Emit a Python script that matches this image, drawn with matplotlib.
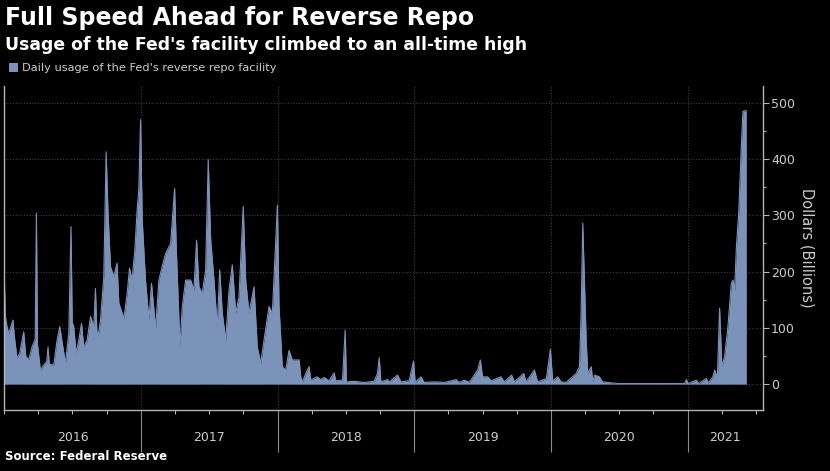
import matplotlib
matplotlib.use('Agg')
import matplotlib.pyplot as plt
import matplotlib.transforms as mtransforms
from matplotlib.patches import Patch
from matplotlib.ticker import FixedLocator, MultipleLocator, NullFormatter

# Daily usage of the Fed's reverse repo facility ($bn).
# x positions are decimal years.
year_pos = [
    2016.000, 2016.009, 2016.021, 2016.033, 2016.065, 2016.073, 2016.094, 2016.114,
    2016.143, 2016.158, 2016.180, 2016.204, 2016.227, 2016.236, 2016.244, 2016.265,
    2016.289, 2016.311, 2016.321, 2016.330, 2016.363, 2016.387, 2016.407, 2016.448,
    2016.473, 2016.489, 2016.498, 2016.509, 2016.526, 2016.546, 2016.566, 2016.582,
    2016.607, 2016.632, 2016.656, 2016.668, 2016.678, 2016.687, 2016.705, 2016.729,
    2016.746, 2016.760, 2016.778, 2016.802, 2016.826, 2016.839, 2016.876, 2016.900,
    2016.917, 2016.936, 2016.956, 2016.973, 2016.985, 2016.998, 2017.010, 2017.034,
    2017.059, 2017.078, 2017.108, 2017.132, 2017.156, 2017.181, 2017.218, 2017.247,
    2017.259, 2017.278, 2017.286, 2017.303, 2017.328, 2017.364, 2017.388, 2017.408,
    2017.425, 2017.449, 2017.474, 2017.493, 2017.511, 2017.535, 2017.559, 2017.577,
    2017.596, 2017.621, 2017.645, 2017.669, 2017.694, 2017.718, 2017.749, 2017.767,
    2017.791, 2017.828, 2017.852, 2017.877, 2017.901, 2017.938, 2017.962, 2017.999,
    2018.011, 2018.035, 2018.060, 2018.084, 2018.108, 2018.121, 2018.158, 2018.170,
    2018.182, 2018.207, 2018.231, 2018.243, 2018.289, 2018.317, 2018.341, 2018.377,
    2018.414, 2018.426, 2018.475, 2018.495, 2018.504, 2018.560, 2018.634, 2018.707,
    2018.731, 2018.744, 2018.756, 2018.804, 2018.817, 2018.878, 2018.903, 2018.963,
    2018.995, 2019.007, 2019.049, 2019.073, 2019.147, 2019.220, 2019.306, 2019.330,
    2019.366, 2019.403, 2019.464, 2019.484, 2019.500, 2019.537, 2019.562, 2019.635,
    2019.659, 2019.713, 2019.733, 2019.801, 2019.818, 2019.879, 2019.903, 2019.967,
    2019.996, 2020.013, 2020.050, 2020.075, 2020.111, 2020.185, 2020.209, 2020.221,
    2020.233, 2020.245, 2020.258, 2020.270, 2020.295, 2020.306, 2020.319, 2020.355,
    2020.377, 2020.451, 2020.502, 2020.795, 2020.978, 2020.991, 2021.004, 2021.064,
    2021.081, 2021.137, 2021.150, 2021.183, 2021.198, 2021.218, 2021.234, 2021.251,
    2021.271, 2021.295, 2021.320, 2021.332, 2021.344, 2021.357, 2021.374, 2021.393,
    2021.405, 2021.430,
]
usage = [
    199, 120, 102, 90, 114, 88, 46, 55,
    93, 50, 43, 66, 80, 304, 70, 25,
    34, 40, 66, 35, 34, 78, 102, 37,
    90, 280, 110, 102, 55, 78, 108, 66,
    78, 120, 102, 170, 95, 84, 114, 191,
    413, 304, 209, 191, 215, 144, 117, 161,
    206, 185, 238, 310, 345, 470, 292, 185,
    114, 179, 99, 185, 209, 232, 250, 348,
    244, 120, 66, 138, 185, 185, 167, 256,
    173, 161, 203, 399, 256, 185, 102, 203,
    126, 78, 167, 212, 126, 155, 316, 185,
    126, 173, 66, 37, 78, 138, 126, 318,
    138, 31, 25, 60, 43, 43, 43, 13,
    4, 19, 31, 7, 13, 8, 12, 6,
    20, 6, 7, 96, 4, 5, 3, 5,
    19, 47, 4, 8, 4, 16, 4, 6,
    41, 3, 13, 3, 4, 3, 8, 3,
    7, 3, 25, 43, 13, 13, 6, 13,
    4, 16, 4, 19, 4, 25, 4, 10,
    62, 6, 13, 4, 3, 19, 31, 126,
    286, 185, 78, 19, 31, 4, 16, 13,
    4, 2, 1, 1, 1, 8, 1, 7,
    1, 10, 2, 12, 25, 12, 135, 31,
    49, 102, 179, 185, 167, 244, 304, 422,
    485, 486,
]

years = [2016, 2017, 2018, 2019, 2020, 2021]
year_labels = ['2016', '2017', '2018', '2019', '2020', '2021']
y_ticks = [0, 100, 200, 300, 400, 500]

fill_color = '#7b93b9'
text_grey = '#cccccc'
line_grey = '#b4b4b4'
x_end = 2021.55

fig = plt.figure(figsize=(8.3, 4.71), dpi=100, facecolor='black')
ax = fig.add_axes([0.005, 0.1295, 0.914, 0.688])
ax.set_facecolor('black')

ax.fill_between(year_pos, usage, 0, color=fill_color, linewidth=0)
ax.plot(year_pos, usage, color=fill_color, linewidth=0.8)

ax.set_xlim(2016, x_end)
ax.set_ylim(-46, 530)

# right hand value axis
ax.yaxis.tick_right()
ax.yaxis.set_label_position('right')
ax.set_yticks(y_ticks)
ax.yaxis.set_minor_locator(MultipleLocator(50))
ax.tick_params(axis='y', which='major', length=4, width=0.8, color=line_grey,
               labelcolor=text_grey, labelsize=9, pad=2)
ax.tick_params(axis='y', which='minor', length=2, width=0.8, color=line_grey)
ax.set_ylabel('Dollars (Billions)', color=text_grey, fontsize=10.5,
              rotation=270, labelpad=14)

# year separators below the axis, quarter ticks in between
ax.xaxis.set_major_locator(FixedLocator(years[1:]))
ax.xaxis.set_major_formatter(NullFormatter())
ax.xaxis.set_minor_locator(MultipleLocator(0.25))
ax.tick_params(axis='x', which='major', length=30, width=0.8, color='#8a8a8a')
ax.tick_params(axis='x', which='minor', length=3, width=0.8, color=line_grey)

trans = mtransforms.blended_transform_factory(ax.transData, ax.transAxes)
for i, lab in enumerate(year_labels):
    right = years[i] + 1 if i + 1 < len(years) else x_end
    ax.text((years[i] + right) / 2, -0.085, lab, transform=trans,
            ha='center', va='center', color=text_grey, fontsize=9)

ax.grid(axis='y', which='major', color='#3c3c3c', linestyle=(0, (1, 1.5)), linewidth=0.8)
ax.grid(axis='x', which='major', color='#3c3c3c', linestyle=(0, (1, 1.5)), linewidth=0.8)
ax.set_axisbelow(True)

ax.spines['top'].set_visible(False)
for side in ['left', 'bottom', 'right']:
    ax.spines[side].set_color(line_grey)
    ax.spines[side].set_linewidth(1)

# titles and source
fig.text(0.006, 0.962, 'Full Speed Ahead for Reverse Repo', color='white',
         fontsize=17, fontweight='bold', va='center')
fig.text(0.006, 0.904, "Usage of the Fed's facility climbed to an all-time high",
         color='white', fontsize=12.4, fontweight='bold', va='center')
fig.text(0.006, 0.030, 'Source: Federal Reserve', color='white',
         fontsize=8.5, fontweight='bold', va='center')

leg = ax.legend(handles=[Patch(facecolor=fill_color,
                               label="Daily usage of the Fed's reverse repo facility")],
                loc='upper left', bbox_to_anchor=(0.011, 1 - 63 / 471),
                bbox_transform=fig.transFigure, frameon=False, fontsize=8.2,
                handlelength=0.8, handleheight=0.8, handletextpad=0.3,
                borderpad=0, borderaxespad=0, labelcolor=text_grey)

fig.savefig('out.png', dpi=100, facecolor='black')
